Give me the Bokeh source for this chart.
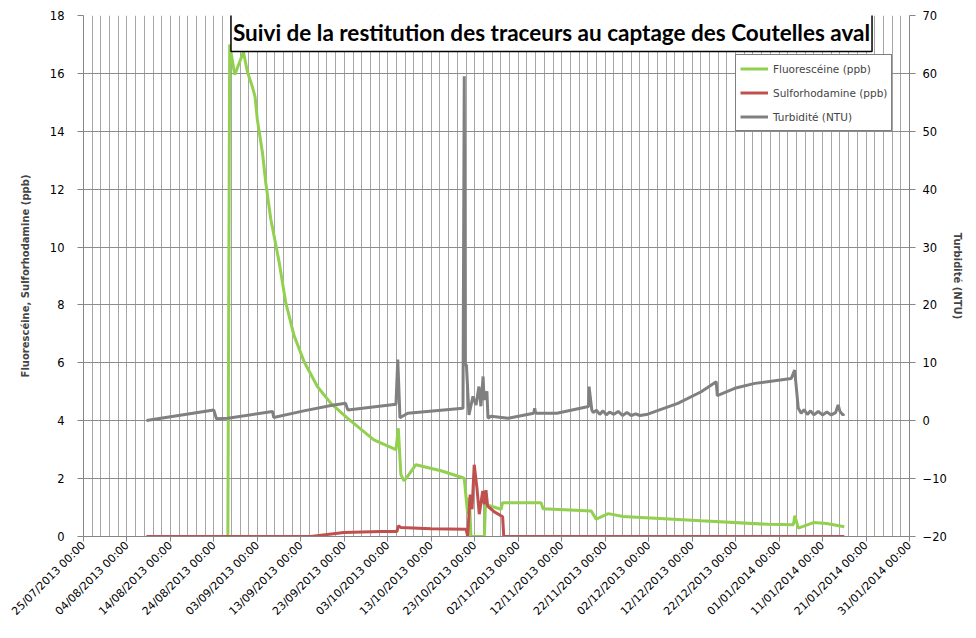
import pandas as pd
from bokeh.plotting import figure
from bokeh.models import (Range1d, LinearAxis, FixedTicker, DatetimeTickFormatter,
                          Legend, LegendItem, Label)
from bokeh.embed import file_html
from bokeh.resources import INLINE

# ---------------- data ----------------
fluo_dates = ["2013-08-08 12:00", "2013-08-27 05:00", "2013-08-27 15:00", "2013-08-28 19:00",
              "2013-08-30 19:00", "2013-08-31 17:00", "2013-09-01 20:00", "2013-09-02 11:00",
              "2013-09-03 00:00", "2013-09-04 04:00", "2013-09-04 22:00", "2013-09-06 02:00",
              "2013-09-06 20:00", "2013-09-08 00:00", "2013-09-09 12:00", "2013-09-11 10:00",
              "2013-09-13 18:00", "2013-09-16 19:00", "2013-09-19 22:00", "2013-09-23 17:00",
              "2013-09-29 19:00", "2013-10-04 21:00", "2013-10-05 10:00", "2013-10-06 00:00",
              "2013-10-06 18:00", "2013-10-07 20:00", "2013-10-09 11:00", "2013-10-15 05:00",
              "2013-10-20 07:00", "2013-10-20 14:00", "2013-10-21 09:00", "2013-10-21 18:00",
              "2013-10-22 03:00", "2013-10-25 05:00", "2013-10-25 11:00", "2013-10-29 01:00",
              "2013-10-29 10:00", "2013-11-07 06:00", "2013-11-07 17:00", "2013-11-18 19:00",
              "2013-11-19 22:00", "2013-11-22 17:00", "2013-11-26 02:00", "2013-12-14 02:00",
              "2013-12-29 12:00", "2014-01-04 07:00", "2014-01-04 15:00", "2014-01-05 10:00",
              "2014-01-08 22:00", "2014-01-11 22:00", "2014-01-16 00:00"]
fluo_vals = [0.0, 0.0, 17.0, 15.95,
             16.74, 16.05, 15.54, 15.2,
             14.39, 13.26, 12.23, 10.96,
             10.39, 9.48, 8.1, 6.95,
             6.04, 5.18, 4.6, 4.09,
             3.34, 3.0, 3.74, 2.14,
             1.92, 2.14, 2.48, 2.27,
             2.03, 2.0, 0.77, 1.34,
             0.0, 0.0, 1.11, 0.94,
             1.17, 1.17, 0.96, 0.88,
             0.6, 0.79, 0.69, 0.54,
             0.42, 0.41, 0.72, 0.29,
             0.48, 0.45, 0.34]

rhod_dates = ["2013-08-08 12:00", "2013-09-15 07:00", "2013-09-22 21:00", "2013-10-01 10:00",
              "2013-10-05 02:00", "2013-10-05 10:00", "2013-10-06 00:00", "2013-10-12 22:00",
              "2013-10-21 00:00", "2013-10-21 09:00", "2013-10-21 18:00", "2013-10-21 23:00",
              "2013-10-22 09:00", "2013-10-22 21:00", "2013-10-23 12:00", "2013-10-24 01:00",
              "2013-10-24 20:00", "2013-10-25 05:00", "2013-10-25 14:00", "2013-10-25 23:00",
              "2013-10-27 12:00", "2013-10-29 10:00", "2013-10-29 16:00", "2014-01-16 00:00"]
rhod_vals = [0.0, 0.0, 0.14, 0.17,
             0.17, 0.37, 0.31, 0.27,
             0.25, 0.0, 1.0, 1.45,
             0.94, 2.48, 1.68, 0.77,
             1.57, 1.11, 1.6, 1.05,
             0.85, 0.68, 0.0, 0.0]

turb_dates = ["2013-08-08 12:00", "2013-08-23 23:00", "2013-08-24 14:00", "2013-08-27 05:00",
              "2013-09-06 12:00", "2013-09-06 18:00", "2013-09-13 16:00", "2013-09-19 22:00",
              "2013-09-23 07:00", "2013-09-23 19:00", "2013-10-04 21:00", "2013-10-05 07:00",
              "2013-10-05 19:00", "2013-10-07 14:00", "2013-10-20 07:00", "2013-10-20 14:00",
              "2013-10-20 19:00", "2013-10-21 02:00", "2013-10-21 16:00", "2013-10-22 14:00",
              "2013-10-23 07:00", "2013-10-23 23:00", "2013-10-24 10:00", "2013-10-24 22:00",
              "2013-10-25 03:00", "2013-10-25 19:00", "2013-10-26 01:00", "2013-10-26 17:00",
              "2013-10-30 16:00", "2013-11-05 13:00", "2013-11-05 19:00", "2013-11-06 00:00",
              "2013-11-10 21:00", "2013-11-18 04:00", "2013-11-18 07:00", "2013-11-18 22:00",
              "2013-11-19 06:00", "2013-11-20 00:00", "2013-11-20 18:00", "2013-11-21 12:00",
              "2013-11-22 06:00", "2013-11-23 00:00", "2013-11-24 00:00", "2013-11-25 00:00",
              "2013-11-26 00:00", "2013-11-27 00:00", "2013-11-28 00:00", "2013-11-29 00:00",
              "2013-11-30 00:00", "2013-12-01 19:00", "2013-12-08 17:00", "2013-12-14 02:00",
              "2013-12-17 13:00", "2013-12-17 19:00", "2013-12-21 19:00", "2013-12-26 10:00",
              "2014-01-03 19:00", "2014-01-04 14:00", "2014-01-05 10:00", "2014-01-06 02:00",
              "2014-01-06 18:00", "2014-01-07 12:00", "2014-01-08 06:00", "2014-01-09 00:00",
              "2014-01-10 00:00", "2014-01-11 00:00", "2014-01-12 00:00", "2014-01-13 00:00",
              "2014-01-14 00:00", "2014-01-14 14:00", "2014-01-15 00:00", "2014-01-15 17:00",
              "2014-01-16 00:00"]
turb_vals = [0.05, 1.87, 0.32, 0.44,
             1.59, 0.56, 1.7, 2.62,
             3.0, 1.87, 2.84, 10.57,
             0.5, 1.3, 2.16, 59.5,
             9.7, 9.6, 1.0, 4.2,
             2.7, 5.9, 2.5, 7.65,
             3.6, 5.1, 0.44, 0.78,
             0.44, 1.3, 2.16, 1.3,
             1.3, 2.45, 5.9, 1.87,
             1.4, 1.8, 1.1, 1.7,
             1.0, 1.5, 1.1, 1.6,
             0.9, 1.4, 0.9, 1.2,
             0.9, 1.13, 3.0, 5.0,
             6.74, 4.34, 5.6, 6.45,
             7.3, 8.73, 2.16, 1.3,
             1.9, 1.1, 1.7, 1.0,
             1.6, 1.0, 1.5, 1.0,
             1.4, 2.73, 1.6, 1.0,
             1.2]

x_start = "2013-07-25"
x_end = "2014-01-31"
left_ticks = [0, 2, 4, 6, 8, 10, 12, 14, 16, 18]
right_ticks = [-20, -10, 0, 10, 20, 30, 40, 50, 60, 70]

title_text = "Suivi de la restitution des traceurs au captage des Coutelles aval"
left_label = "Fluorescéine, Sulforhodamine (ppb)"
right_label = "Turbidité (NTU)"
legend_labels = ["Fluorescéine (ppb)", "Sulforhodamine (ppb)", "Turbidité (NTU)"]

# ---------------- figure ----------------
epoch = pd.Timestamp("1970-01-01")
def ms(s):
    return (pd.Timestamp(s) - epoch).total_seconds() * 1000.0

major = [ms(d) for d in pd.date_range(x_start, x_end, freq="10D")]
minor = [ms(d) for d in pd.date_range(x_start, x_end, freq="2D")]

GRAY_AX = "#868686"
TICK_FONT = "DejaVu Sans"
FRAME_H = 521

p = figure(width=960, height=622, frame_width=826, frame_height=FRAME_H,
           x_axis_type="datetime",
           x_range=Range1d(ms(x_start), ms(x_end)), y_range=Range1d(0, 18),
           output_backend="svg", toolbar_location=None,
           min_border_left=83, min_border_right=10, min_border_top=15, min_border_bottom=10)
p.extra_y_ranges = {"turb": Range1d(-20, 70)}
p.outline_line_color = None
p.background_fill_color = "white"
p.border_fill_color = "white"

# x axis
xa = p.xaxis[0]
xa.ticker = FixedTicker(ticks=major)
fmt = "%d/%m/%Y %H:%M"
xa.formatter = DatetimeTickFormatter(milliseconds=fmt, seconds=fmt, minsec=fmt, minutes=fmt,
                                     hourmin=fmt, hours=fmt, days=fmt, months=fmt, years=fmt)
xa.major_label_orientation = 0.785398
xa.major_label_text_font = TICK_FONT
xa.major_label_text_font_size = "11px"
xa.major_label_text_color = "black"
xa.axis_line_color = GRAY_AX
xa.major_tick_line_color = GRAY_AX
xa.major_tick_out = 5
xa.major_tick_in = 0
xa.minor_tick_line_color = None
xa.major_label_standoff = 2

# left axis
ya = p.yaxis[0]
ya.ticker = FixedTicker(ticks=left_ticks)
ya.axis_label = left_label
ya.axis_label_text_font = TICK_FONT
ya.axis_label_text_font_style = "bold"
ya.axis_label_text_font_size = "10px"
ya.axis_label_standoff = 16
ya.major_label_text_font = TICK_FONT
ya.major_label_text_font_size = "11.5px"
ya.major_label_text_color = "black"
ya.axis_line_color = GRAY_AX
ya.major_tick_line_color = GRAY_AX
ya.major_tick_out = 6
ya.major_tick_in = 0
ya.minor_tick_line_color = None
ya.major_label_standoff = 13

# right axis
ra = LinearAxis(y_range_name="turb", ticker=FixedTicker(ticks=right_ticks),
                axis_label=right_label)
ra.axis_label_text_font = TICK_FONT
ra.axis_label_text_font_style = "bold"
ra.axis_label_text_font_size = "10px"
ra.axis_label_standoff = 2
ra.major_label_text_font = TICK_FONT
ra.major_label_text_font_size = "11.5px"
ra.major_label_text_color = "black"
ra.axis_line_color = GRAY_AX
ra.major_tick_line_color = GRAY_AX
ra.major_tick_out = 6
ra.major_tick_in = 0
ra.minor_tick_line_color = None
ra.major_label_standoff = 7
p.add_layout(ra, "right")

# grids
p.xgrid[0].ticker = FixedTicker(ticks=minor)
p.xgrid[0].grid_line_color = "#a6a6a6"
p.xgrid[0].grid_line_width = 1
p.ygrid[0].ticker = FixedTicker(ticks=left_ticks)
p.ygrid[0].grid_line_color = "#8c8c8c"
p.ygrid[0].grid_line_width = 1

# lines
fx = pd.to_datetime(fluo_dates)
rx = pd.to_datetime(rhod_dates)
tx = pd.to_datetime(turb_dates)
r1 = p.line(fx, fluo_vals, line_color="#92D050", line_width=3)
r2 = p.line(rx, rhod_vals, line_color="#C0504D", line_width=3)
r3 = p.line(tx, turb_vals, line_color="#808080", line_width=3, y_range_name="turb")

legend = Legend(items=[LegendItem(label=legend_labels[0], renderers=[r1]),
                       LegendItem(label=legend_labels[1], renderers=[r2]),
                       LegendItem(label=legend_labels[2], renderers=[r3])],
                location=(652, FRAME_H - 116))
legend.label_text_font = TICK_FONT
legend.label_text_font_size = "10.5px"
legend.glyph_width = 28
legend.glyph_height = 19
legend.label_height = 19
legend.spacing = 5
legend.padding = 4
legend.margin = 0
legend.label_standoff = 5
legend.border_line_color = "black"
legend.border_line_width = 1
legend.background_fill_color = "white"
legend.background_fill_alpha = 1
p.add_layout(legend)

title = Label(x=468, y=FRAME_H - 16.5, x_units="screen", y_units="screen", text=title_text,
              text_font="Lato", text_font_style="bold", text_font_size="22.5px",
              text_align="center", text_baseline="middle", text_color="black",
              border_line_color="black", border_line_width=1.5,
              background_fill_color="white", padding=(2, 6))
p.add_layout(title)

open("out.html", "w").write(file_html(p, INLINE))
